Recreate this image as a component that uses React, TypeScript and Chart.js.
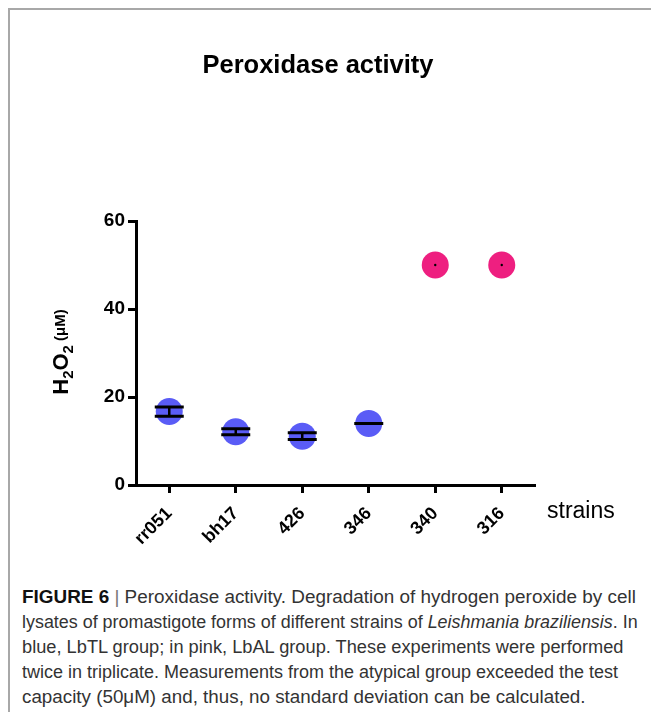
import React, { useEffect, useRef } from "react";
import { Chart, registerables } from "chart.js";

Chart.register(...registerables);

const strains = ["rr051", "bh17", "426", "346", "340", "316"];
const lbtlMean: (number | null)[] = [16.7, 12.1, 11.1, 14.0, null, null];
const lbtlSD: (number | null)[] = [1.05, 0.7, 0.75, 0, null, null];
const lbalMean: (number | null)[] = [null, null, null, null, 50, 50];
const yMin = 0;
const yMax = 60;
const yStep = 20;

const FONT = "'Liberation Sans', Arial, sans-serif";

const errorBarPlugin = {
  id: "errorBars",
  afterDatasetsDraw(chart: any) {
    const ctx = chart.ctx as CanvasRenderingContext2D;
    const xs = chart.scales.x;
    const ys = chart.scales.y;
    ctx.save();
    ctx.strokeStyle = "#000";
    ctx.fillStyle = "#000";
    lbtlMean.forEach((m, i) => {
      if (m == null) return;
      const sd = lbtlSD[i] ?? 0;
      const px = xs.getPixelForValue(i);
      const top = ys.getPixelForValue(m + sd);
      const bot = ys.getPixelForValue(m - sd);
      ctx.lineWidth = 3;
      ctx.beginPath();
      ctx.moveTo(px - 14.5, top);
      ctx.lineTo(px + 14.5, top);
      ctx.moveTo(px - 14.5, bot);
      ctx.lineTo(px + 14.5, bot);
      ctx.stroke();
      if (bot - top > 0.5) {
        ctx.lineWidth = 2.5;
        ctx.beginPath();
        ctx.moveTo(px, top);
        ctx.lineTo(px, bot);
        ctx.stroke();
      }
    });
    lbalMean.forEach((m, i) => {
      if (m == null) return;
      const px = xs.getPixelForValue(i);
      const py = ys.getPixelForValue(m);
      ctx.beginPath();
      ctx.arc(px, py, 1.2, 0, Math.PI * 2);
      ctx.fill();
    });
    ctx.restore();
  },
};

const textPlugin = {
  id: "texts",
  afterDraw(chart: any) {
    const ctx = chart.ctx as CanvasRenderingContext2D;
    ctx.save();
    ctx.fillStyle = "#000";
    ctx.font = `bold 25.5px ${FONT}`;
    ctx.textAlign = "center";
    ctx.textBaseline = "alphabetic";
    ctx.fillText("Peroxidase activity", 318, 73);
    ctx.font = `23px ${FONT}`;
    ctx.textAlign = "left";
    ctx.fillText("strains", 547, 518);
    const parts: { t: string; size: number; dy: number }[] = [
      { t: "H", size: 22, dy: 0 },
      { t: "2", size: 15, dy: 5 },
      { t: "O", size: 22, dy: 0 },
      { t: "2", size: 15, dy: 5 },
      { t: " ", size: 15, dy: 0 },
      { t: "(μM)", size: 15, dy: -3 },
    ];
    let total = 0;
    const widths = parts.map((p) => {
      ctx.font = `bold ${p.size}px ${FONT}`;
      const w = ctx.measureText(p.t).width;
      total += w;
      return w;
    });
    ctx.translate(68, 352);
    ctx.rotate(-Math.PI / 2);
    let x = -total / 2;
    parts.forEach((p, i) => {
      ctx.font = `bold ${p.size}px ${FONT}`;
      ctx.fillText(p.t, x, p.dy);
      x += widths[i];
    });
    ctx.restore();
  },
};

function ChartView() {
  const ref = useRef<HTMLCanvasElement | null>(null);
  useEffect(() => {
    if (!ref.current) return;
    const axisGrid = {
      display: true,
      drawOnChartArea: false,
      drawTicks: true,
      tickLength: 8,
      tickWidth: 3,
      tickColor: "#000",
      offset: false,
    };
    const axisBorder = { display: true, color: "#000", width: 3 };
    const chart = new Chart(ref.current, {
      type: "line",
      data: {
        labels: strains,
        datasets: [
          {
            label: "LbTL",
            data: lbtlMean,
            showLine: false,
            pointRadius: 13.5,
            pointHoverRadius: 13.5,
            pointBackgroundColor: "#5A5CF6",
            pointBorderWidth: 0,
            borderColor: "rgba(0,0,0,0)",
          },
          {
            label: "LbAL",
            data: lbalMean,
            showLine: false,
            pointRadius: 13.5,
            pointHoverRadius: 13.5,
            pointBackgroundColor: "#EE1F80",
            pointBorderWidth: 0,
            borderColor: "rgba(0,0,0,0)",
          },
        ],
      },
      options: {
        animation: false,
        responsive: false,
        devicePixelRatio: 1,
        events: [],
        layout: { padding: { top: 221, right: 116, left: 0, bottom: 0 } },
        plugins: {
          legend: { display: false },
          tooltip: { enabled: false },
          title: { display: false },
        },
        scales: {
          x: {
            type: "category",
            offset: true,
            grid: axisGrid as any,
            border: axisBorder,
            ticks: {
              color: "#000",
              font: { family: FONT, weight: "bold", size: 18 },
              minRotation: 45,
              maxRotation: 45,
              autoSkip: false,
              padding: 10,
            },
            afterFit: (s: any) => {
              s.height = 75;
            },
          },
          y: {
            min: yMin,
            max: yMax,
            grid: axisGrid as any,
            border: axisBorder,
            ticks: {
              stepSize: yStep,
              color: "#000",
              font: { family: FONT, weight: "bold", size: 19 },
              padding: 3,
            },
            afterFit: (s: any) => {
              s.width = 136;
            },
          },
        },
      } as any,
      plugins: [errorBarPlugin, textPlugin],
    });
    return () => chart.destroy();
  }, []);
  return (
    <canvas
      ref={ref}
      width={651}
      height={560}
      style={{ position: "absolute", left: 0, top: 0, width: 651, height: 560 }}
    />
  );
}

const captionLines: { content: React.ReactNode; sx: number }[] = [
  {
    content: (
      <>
        <b style={{ color: "#111" }}>FIGURE 6</b> <span style={{ color: "#777" }}>|</span> Peroxidase activity. Degradation of hydrogen peroxide by cell
      </>
    ),
    sx: 1.08,
  },
  {
    content: (
      <>
        lysates of promastigote forms of different strains of <i>Leishmania braziliensis</i>. In
      </>
    ),
    sx: 1.023,
  },
  { content: <>blue, LbTL group; in pink, LbAL group. These experiments were performed</>, sx: 1.042 },
  { content: <>twice in triplicate. Measurements from the atypical group exceeded the test</>, sx: 1.028 },
  { content: <>capacity (50μM) and, thus, no standard deviation can be calculated.</>, sx: 1.074 },
];

export default function App() {
  return (
    <div
      style={{
        position: "absolute",
        left: 0,
        top: 0,
        width: 651,
        height: 712,
        background: "#fff",
        overflow: "hidden",
      }}
    >
      <div
        style={{
          position: "absolute",
          left: 8,
          top: 8,
          width: 643,
          height: 704,
          borderTop: "2px solid #a8a8a8",
          borderLeft: "2px solid #a8a8a8",
          boxSizing: "border-box",
        }}
      />
      <ChartView />
      {captionLines.map((l, i) => (
        <div
          key={i}
          style={{
            position: "absolute",
            left: 22,
            top: 585 + i * 25,
            fontFamily: "'Liberation Sans', Arial, sans-serif",
            fontSize: 17.5,
            lineHeight: "25px",
            color: "#333",
            whiteSpace: "nowrap",
            transform: `scaleX(${l.sx})`,
            transformOrigin: "0 0",
          }}
        >
          {l.content}
        </div>
      ))}
    </div>
  );
}
